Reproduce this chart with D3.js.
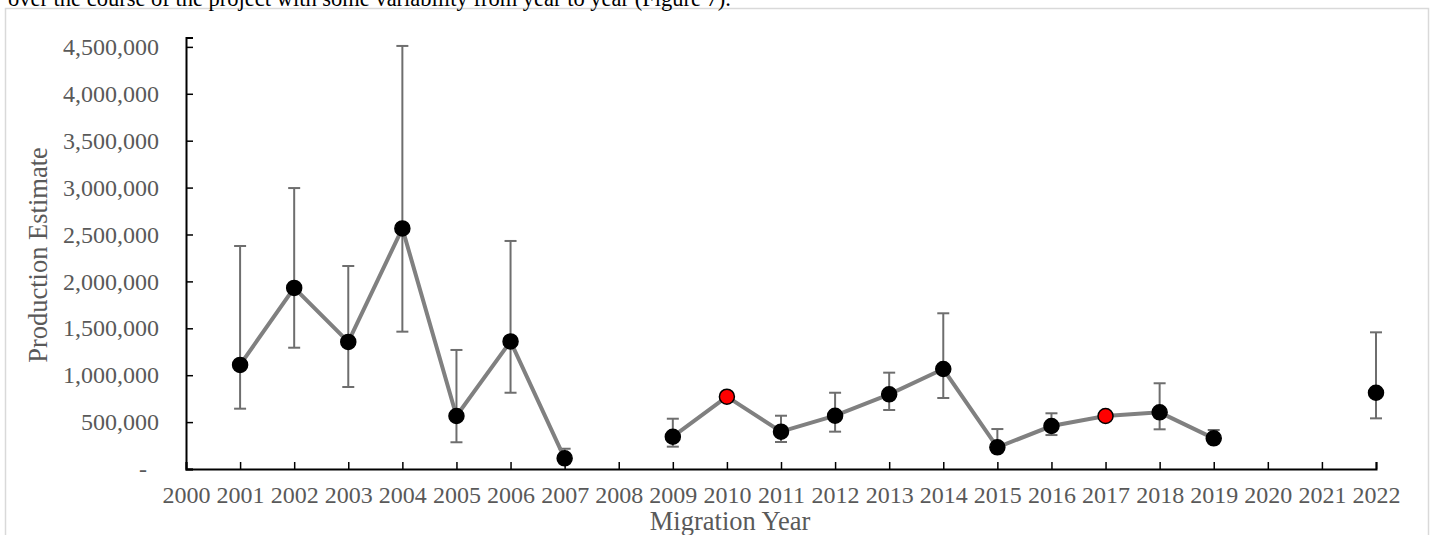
<!DOCTYPE html>
<html>
<head>
<meta charset="utf-8">
<script src="https://cdn.jsdelivr.net/npm/d3@7"></script>
<style>
  html, body { margin: 0; padding: 0; background: #fff; }
  svg { display: block; }
</style>
</head>
<body>
<svg id="chart" width="1434" height="535"></svg>
<script>
// ---- data ----
const years = [2001, 2002, 2003, 2004, 2005, 2006, 2007, 2008, 2009, 2010, 2011,
               2012, 2013, 2014, 2015, 2016, 2017, 2018, 2019, 2020, 2021, 2022];
const estimates = [1110000, 1930000, 1355000, 2565000, 565000, 1360000, 114000, null,
                   344000, 771000, 398000, 568000, 796000, 1066000, 231000, 458000,
                   565000, 604000, 327000, null, null, 813000];
const upperCI = [2377000, 2995000, 2164000, 4510000, 1269000, 2431000, 216000, null,
                 536000, null, 568000, 813000, 1027000, 1660000, 426000, 594000,
                 null, 914000, 416000, null, null, 1457000];
const lowerCI = [643000, 1293000, 874000, 1464000, 285000, 813000, 90000, null,
                 238000, null, 288000, 398000, 629000, 757000, 200000, 362000,
                 null, 423000, 300000, null, null, 540000];
const highlighted = [2010, 2017];
const yTicks = [0, 500000, 1000000, 1500000, 2000000, 2500000, 3000000, 3500000, 4000000, 4500000];
const xTicks = d3.range(2000, 2023);
const introText = "over the course of the project with some variability from year to year (Figure 7).";

const rows = years.map((y, i) => ({ year: y, est: estimates[i], hi: upperCI[i], lo: lowerCI[i] }));

const svg = d3.select("#chart");
const textColor = "#595959";
const serif = "'Liberation Serif', 'Times New Roman', serif";

// chart frame
svg.append("rect")
  .attr("x", 5.5).attr("y", 8.5).attr("width", 1423).attr("height", 560)
  .attr("fill", "none").attr("stroke", "#d9d9d9").attr("stroke-width", 1.5);

// intro text line (partially cut at top, as in the source page)
svg.append("text")
  .attr("x", 8).attr("y", 6)
  .attr("font-family", serif).attr("font-size", 22.5)
  .attr("fill", "#000")
  .text(introText);

// scales
const x = d3.scaleLinear().domain([2000, 2022]).range([186, 1376]);
const y = d3.scaleLinear().domain([0, 4600000]).range([469, 37.5]);

// y axis
const fmt = d3.format(",");
const yAxis = d3.axisLeft(y).tickValues(yTicks).tickSize(-7).tickPadding(27)
  .tickFormat(d => d === 0 ? "" : fmt(d));
const gy = svg.append("g").attr("transform", "translate(186,0)").call(yAxis);
gy.select(".domain").attr("stroke", "#000").attr("stroke-width", 2);
gy.selectAll(".tick line").attr("stroke", "#000").attr("stroke-width", 1.5);
gy.selectAll(".tick text").attr("fill", textColor)
  .attr("font-family", serif).attr("font-size", 24);
// zero label shown as a dash (accounting format)
gy.selectAll(".tick").filter(d => d === 0).append("text")
  .attr("x", -39).attr("dy", "0.32em").attr("text-anchor", "end")
  .attr("fill", textColor).attr("font-family", serif).attr("font-size", 24)
  .text("-");

// x axis
const xAxis = d3.axisBottom(x).tickValues(xTicks).tickSize(-7).tickPadding(17)
  .tickFormat(d3.format("d"));
const gx = svg.append("g").attr("transform", "translate(0,469)").call(xAxis);
gx.select(".domain").attr("stroke", "#000").attr("stroke-width", 2);
gx.selectAll(".tick line").attr("stroke", "#000").attr("stroke-width", 1.5);
gx.selectAll(".tick text").attr("fill", textColor)
  .attr("font-family", serif).attr("font-size", 24);

// axis titles
svg.append("text")
  .attr("x", 730).attr("y", 530).attr("text-anchor", "middle")
  .attr("fill", textColor).attr("font-family", serif).attr("font-size", 26.5)
  .text("Migration Year");
svg.append("text")
  .attr("transform", "translate(47,255) rotate(-90)").attr("text-anchor", "middle")
  .attr("fill", textColor).attr("font-family", serif).attr("font-size", 26.5)
  .text("Production Estimate");

// error bars
const eb = rows.filter(d => d.est != null && d.hi != null);
const ebG = svg.append("g").attr("stroke", "#6e6e6e").attr("stroke-width", 2);
ebG.selectAll("line.v").data(eb).join("line").attr("class", "v")
  .attr("x1", d => x(d.year)).attr("x2", d => x(d.year))
  .attr("y1", d => y(d.hi)).attr("y2", d => y(d.lo));
ebG.selectAll("line.t").data(eb).join("line").attr("class", "t")
  .attr("x1", d => x(d.year) - 6).attr("x2", d => x(d.year) + 6)
  .attr("y1", d => y(d.hi)).attr("y2", d => y(d.hi));
ebG.selectAll("line.b").data(eb).join("line").attr("class", "b")
  .attr("x1", d => x(d.year) - 6).attr("x2", d => x(d.year) + 6)
  .attr("y1", d => y(d.lo)).attr("y2", d => y(d.lo));

// connecting line (gaps where no estimate)
const line = d3.line().defined(d => d.est != null)
  .x(d => x(d.year)).y(d => y(d.est));
svg.append("path").datum(rows)
  .attr("fill", "none").attr("stroke", "#808080").attr("stroke-width", 4)
  .attr("d", line);

// markers
svg.append("g").selectAll("circle").data(rows.filter(d => d.est != null)).join("circle")
  .attr("cx", d => x(d.year)).attr("cy", d => y(d.est)).attr("r", 7.5)
  .attr("fill", d => highlighted.includes(d.year) ? "#ff0000" : "#000")
  .attr("stroke", "#000").attr("stroke-width", 1.5);
</script>
</body>
</html>
